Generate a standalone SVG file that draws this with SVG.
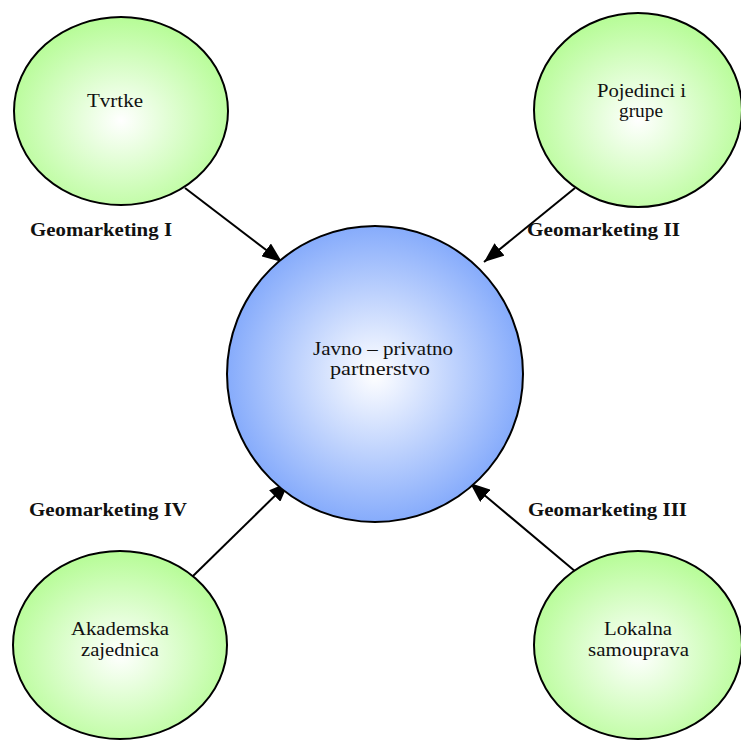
<svg xmlns="http://www.w3.org/2000/svg" width="741" height="740" viewBox="0 0 741 740">
<style>
.n{stroke:#000;stroke-width:2}
.g{fill:url(#gg)}
.b{fill:url(#bg)}
.t{font-family:"Liberation Serif",serif;font-size:18px;fill:#111}
.l{font-family:"Liberation Serif",serif;font-size:18px;font-weight:bold;fill:#111}
</style>
<defs>
<radialGradient id="gg" cx="50%" cy="55%" r="55%">
<stop offset="0" stop-color="#ffffff"/>
<stop offset="1" stop-color="#b6fc96"/>
</radialGradient>
<radialGradient id="bg" cx="50%" cy="50%" r="55%">
<stop offset="0" stop-color="#ffffff"/>
<stop offset="1" stop-color="#7aa3fb"/>
</radialGradient>
<marker id="ah2" viewBox="0 0 20 16" refX="20" refY="8" markerWidth="20" markerHeight="16" orient="auto" markerUnits="userSpaceOnUse">
<path d="M0,0 L20,8 L0,16 z" fill="#000"/>
</marker>
</defs>
<g id="connectors" stroke="#000" stroke-width="2" marker-end="url(#ah2)">
<line x1="185" y1="188" x2="282" y2="262"/>
<line x1="575" y1="188" x2="484" y2="262"/>
<line x1="193" y1="576" x2="289" y2="482"/>
<line x1="576" y1="572" x2="470" y2="483"/>
</g>
<g id="center">
<circle class="n b" cx="375" cy="374" r="148"/>
<text class="t" x="313" y="355" textLength="140" lengthAdjust="spacingAndGlyphs">Javno – privatno</text>
<text class="t" x="330" y="375" textLength="100" lengthAdjust="spacingAndGlyphs">partnerstvo</text>
</g>
<g id="tvrtke">
<ellipse class="n g" cx="121" cy="111" rx="107" ry="94"/>
<text class="t" x="87" y="107" textLength="56" lengthAdjust="spacingAndGlyphs">Tvrtke</text>
</g>
<g id="pojedinci">
<ellipse class="n g" cx="638" cy="110" rx="104" ry="97"/>
<text class="t" x="597" y="97" textLength="89" lengthAdjust="spacingAndGlyphs">Pojedinci i</text>
<text class="t" x="619" y="117" textLength="44" lengthAdjust="spacingAndGlyphs">grupe</text>
</g>
<g id="akademska">
<ellipse class="n g" cx="120" cy="645" rx="107" ry="94"/>
<text class="t" x="71" y="635" textLength="98" lengthAdjust="spacingAndGlyphs">Akademska</text>
<text class="t" x="81" y="656" textLength="78" lengthAdjust="spacingAndGlyphs">zajednica</text>
</g>
<g id="lokalna">
<ellipse class="n g" cx="638" cy="645" rx="104" ry="94"/>
<text class="t" x="604" y="635" textLength="68" lengthAdjust="spacingAndGlyphs">Lokalna</text>
<text class="t" x="588" y="656" textLength="101" lengthAdjust="spacingAndGlyphs">samouprava</text>
</g>
<g id="labels">
<text class="l" x="30" y="236" textLength="142" lengthAdjust="spacingAndGlyphs">Geomarketing I</text>
<text class="l" x="527" y="236" textLength="153" lengthAdjust="spacingAndGlyphs">Geomarketing II</text>
<text class="l" x="29" y="516" textLength="158" lengthAdjust="spacingAndGlyphs">Geomarketing IV</text>
<text class="l" x="528" y="516" textLength="159" lengthAdjust="spacingAndGlyphs">Geomarketing III</text>
</g>
</svg>
